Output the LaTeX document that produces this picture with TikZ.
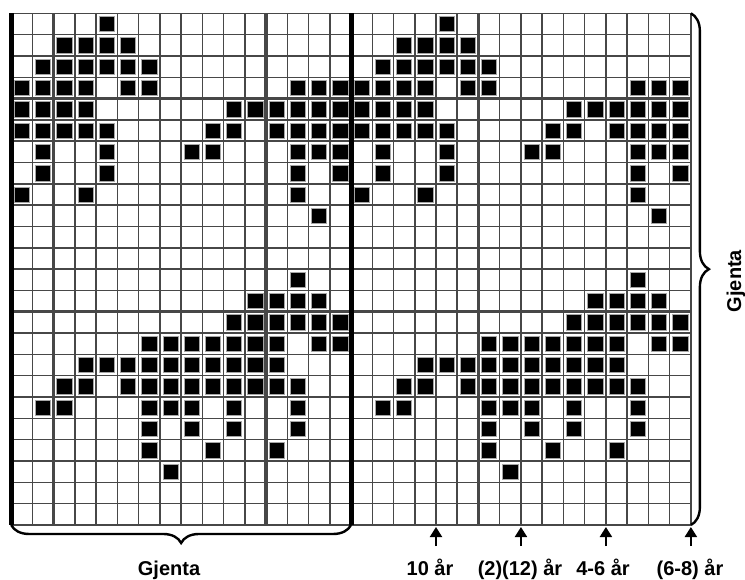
\documentclass[tikz,border=0pt]{standalone}
\usepackage{fontspec}
\setmainfont{Liberation Sans}
\usetikzlibrary{arrows.meta,decorations.pathreplacing}
\begin{document}
\begin{tikzpicture}[x=1pt,y=-1pt,
  gridthin/.style={line width=1.5pt, draw=black!72},
  gridthick/.style={line width=3.2pt, draw=black!72},
  repeatline/.style={line width=5pt, draw=black},
  stitch/.style={fill=black, draw=black!35, line width=0.7pt},
  bracestyle/.style={decorate, decoration={brace, amplitude=18pt, aspect=0.5}, line width=2.4pt, draw=black},
  sizearrow/.style={line width=2pt, -{Triangle[width=12pt,length=10pt]}},
  lbl/.style={font=\fontsize{20}{24}\selectfont\bfseries, inner sep=0pt}
]
\def\cw{21.24}
\def\ch{21.32}
\def\xo{11.2}
\def\yo{13.3}
\useasboundingbox (0,0) rectangle (745,579);
\fill[white] (0,0) rectangle (745,579);
% thin grid
\foreach \i in {0,...,32}
  \draw[gridthin] ({\xo+\i*\cw},\yo) -- ({\xo+\i*\cw},{\yo+24*\ch});
\foreach \j in {0,...,24}
  \draw[gridthin] (\xo,{\yo+\j*\ch}) -- ({\xo+32*\cw},{\yo+\j*\ch});
% thicker gray lines every 10
\foreach \i in {2,12,22}
  \draw[gridthick] ({\xo+\i*\cw},\yo) -- ({\xo+\i*\cw},{\yo+24*\ch});
\foreach \j in {4,14}
  \draw[gridthick] (\xo,{\yo+\j*\ch}) -- ({\xo+32*\cw},{\yo+\j*\ch});
% stitches (16-stitch repeat, drawn twice)
\foreach \r/\cols in {0/{4},1/{2,3,4,5},2/{1,2,3,4,5,6},3/{0,1,2,3,5,6,13,14,15},
  4/{0,1,2,3,10,11,12,13,14,15},5/{0,1,2,3,4,9,10,12,13,14,15},6/{1,4,8,9,13,14,15},
  7/{1,4,13,15},8/{0,3,13},9/{14},12/{13},13/{11,12,13,14},14/{10,11,12,13,14,15},
  15/{6,7,8,9,10,11,12,14,15},16/{3,4,5,6,7,8,9,10,11,12},17/{2,3,5,6,7,8,9,10,11,12,13},
  18/{1,2,6,7,8,10,13},19/{6,8,10,13},20/{6,9,12},21/{7}}{
  \foreach \c in \cols {
    \foreach \k in {0,16} {
      \filldraw[stitch] ({\xo+(\c+\k)*\cw+3},{\yo+\r*\ch+3}) rectangle ++({\cw-6},{\ch-6});
    }
  }
}
% repeat lines
\draw[repeatline] (\xo,\yo) -- (\xo,{\yo+24*\ch});
\draw[repeatline] ({\xo+16*\cw},\yo) -- ({\xo+16*\cw},{\yo+24*\ch});
% braces
\coordinate (bl) at (\xo,{\yo+24*\ch});
\coordinate (br) at ({\xo+16*\cw},{\yo+24*\ch});
\draw[bracestyle] (br) -- (bl);
\coordinate (rt) at ({\xo+32*\cw},\yo);
\coordinate (rb) at ({\xo+32*\cw},{\yo+24*\ch});
\draw[bracestyle] (rt) -- (rb);
% size arrows
\foreach \n/\i in {a/20,b/24,c/28,d/32} {
  \coordinate (\n s) at ({\xo+\i*\cw},546);
  \coordinate (\n e) at ({\xo+\i*\cw},527);
  \draw[sizearrow] (\n s) -- (\n e);
}
% labels
\node[lbl, anchor=base] (l10) at (430,575) {10 år};
\node[lbl, anchor=base] (l12) at (520,575) {(2)(12) år};
\node[lbl, anchor=base] (l46) at (603,575) {4-6 år};
\node[lbl, anchor=base] (l68) at (690,575) {(6-8) år};
\node[lbl, anchor=base] (gb) at (169,575) {Gjenta};
\node[lbl, anchor=base, rotate=90] (gr) at (741,281) {Gjenta};
\end{tikzpicture}
\end{document}
